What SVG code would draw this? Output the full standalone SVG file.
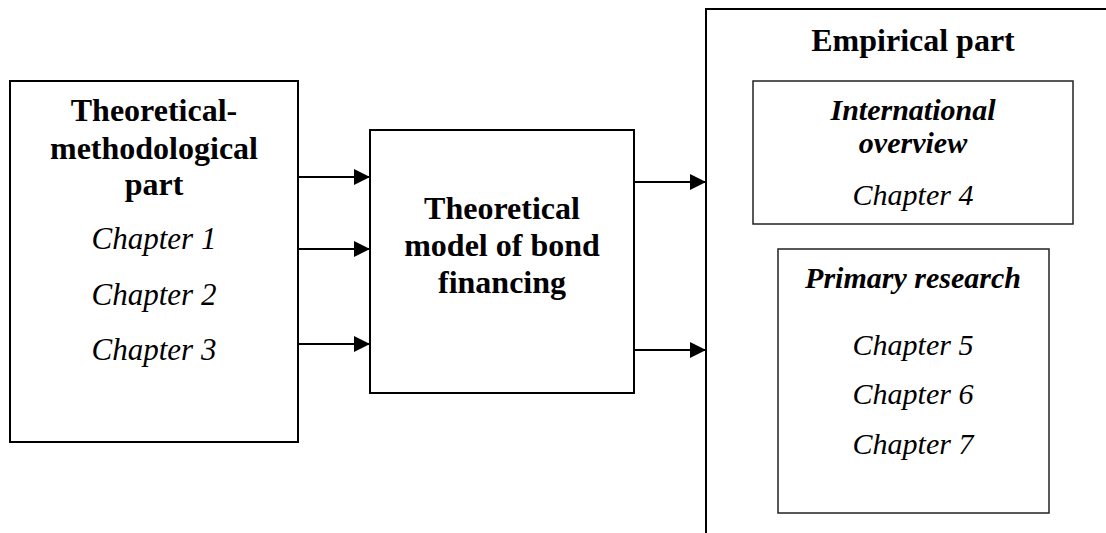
<svg xmlns="http://www.w3.org/2000/svg" width="1106" height="533" viewBox="0 0 1106 533">
<style>
.box{fill:#fff;stroke:#000;stroke-width:2}
.inner{fill:#fff;stroke:#222;stroke-width:1.5}
.b{font-family:"Liberation Serif","Times New Roman",serif;font-weight:bold;font-size:32px;text-anchor:middle;fill:#000}
.bi{font-family:"Liberation Serif","Times New Roman",serif;font-weight:bold;font-style:italic;font-size:30px;text-anchor:middle;fill:#000}
.i{font-family:"Liberation Serif","Times New Roman",serif;font-style:italic;font-size:31px;text-anchor:middle;fill:#000}
.i2{font-family:"Liberation Serif","Times New Roman",serif;font-style:italic;font-size:30px;text-anchor:middle;fill:#000}
.conn{stroke:#000;stroke-width:2;fill:none}
</style>
<defs>
<marker id="ah" markerWidth="16" markerHeight="16" refX="16" refY="8" orient="auto" markerUnits="userSpaceOnUse">
<path d="M0,0 L16,8 L0,16 Z" fill="#000"/>
</marker>
</defs>
<rect width="1106" height="533" fill="#fff"/>
<g id="theoretical-methodological">
<rect class="box" x="10" y="81" width="288" height="361"/>
<text class="b" x="154" y="121">Theoretical-</text>
<text class="b" x="154" y="159">methodological</text>
<text class="b" x="154" y="195">part</text>
<text class="i" x="154" y="249">Chapter 1</text>
<text class="i" x="154" y="305">Chapter 2</text>
<text class="i" x="154" y="360">Chapter 3</text>
</g>
<g id="theoretical-model">
<rect class="box" x="370" y="130" width="264" height="263"/>
<text class="b" x="502" y="219">Theoretical</text>
<text class="b" x="502" y="256">model of bond</text>
<text class="b" x="502" y="293">financing</text>
</g>
<g id="empirical-part">
<path class="box" d="M706,540 L706,9 L1110,9" fill="none"/>
<text class="b" x="913" y="51">Empirical part</text>
</g>
<g id="international-overview">
<rect class="inner" x="753" y="81" width="320" height="143"/>
<text class="bi" x="913" y="120">International</text>
<text class="bi" x="913" y="153">overview</text>
<text class="i2" x="913" y="205">Chapter 4</text>
</g>
<g id="primary-research">
<rect class="inner" x="778" y="249" width="271" height="264"/>
<text class="bi" x="913" y="288">Primary research</text>
<text class="i2" x="913" y="355">Chapter 5</text>
<text class="i2" x="913" y="404">Chapter 6</text>
<text class="i2" x="913" y="454">Chapter 7</text>
</g>
<g id="connectors">
<line class="conn" x1="298" y1="177" x2="370" y2="177" marker-end="url(#ah)"/>
<line class="conn" x1="298" y1="249" x2="370" y2="249" marker-end="url(#ah)"/>
<line class="conn" x1="298" y1="344" x2="370" y2="344" marker-end="url(#ah)"/>
<line class="conn" x1="634" y1="182" x2="706" y2="182" marker-end="url(#ah)"/>
<line class="conn" x1="634" y1="350" x2="706" y2="350" marker-end="url(#ah)"/>
</g>
</svg>
